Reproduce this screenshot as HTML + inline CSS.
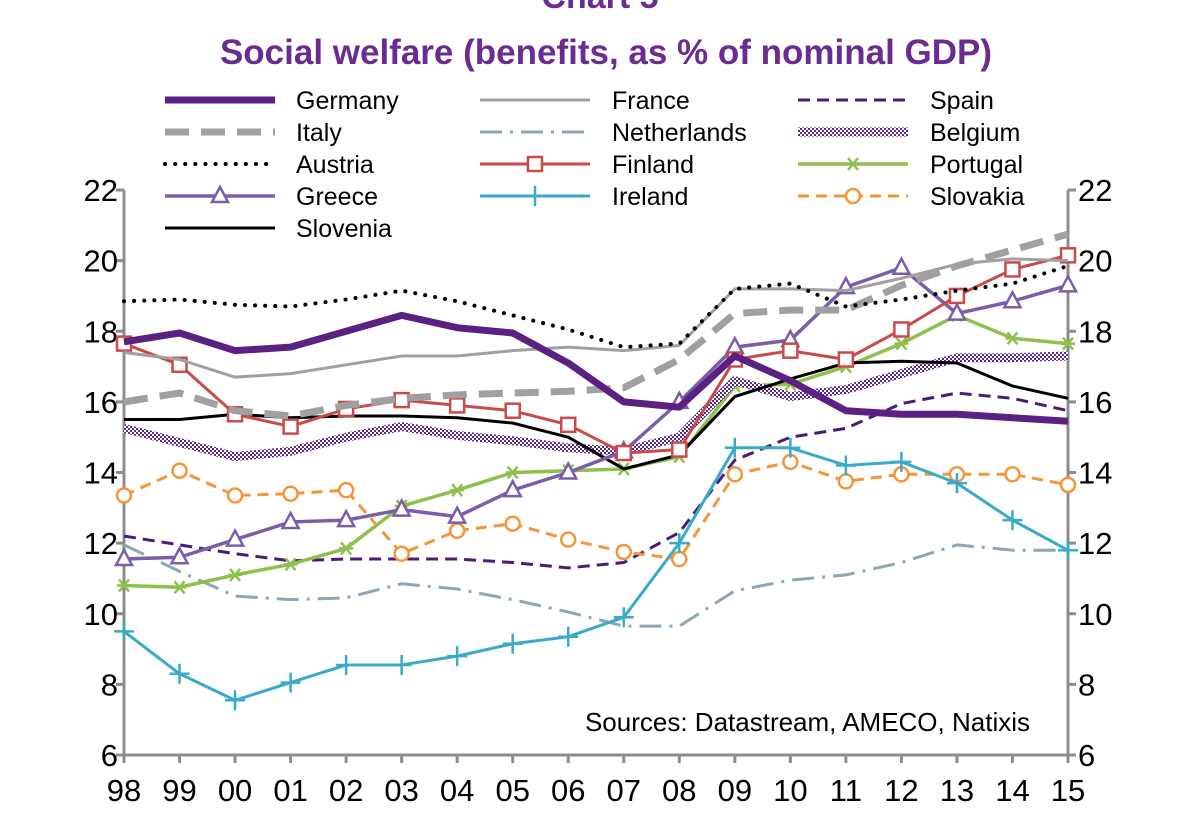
<!DOCTYPE html>
<html><head><meta charset="utf-8"><style>
body{margin:0;background:#fff;width:1200px;height:832px;overflow:hidden;font-family:"Liberation Sans",Arial,sans-serif}
svg text{font-family:"Liberation Sans",Arial,sans-serif}
</style></head><body>
<svg id="c" width="1200" height="832" xmlns="http://www.w3.org/2000/svg">
<defs>
<pattern id="chk" width="4" height="4" patternUnits="userSpaceOnUse"><rect width="4" height="4" fill="#fff"/><rect width="2" height="2" fill="#5b2a86"/><rect x="2" y="2" width="2" height="2" fill="#5b2a86"/></pattern>
</defs>
<text x="600" y="8" text-anchor="middle" font-size="34" font-weight="bold" fill="#6a2c91">Chart 5</text>
<text x="606" y="64" text-anchor="middle" font-size="35" font-weight="bold" fill="#6a2c91">Social welfare (benefits, as % of nominal GDP)</text>
<g id="axes"></g><g id="series"></g><g id="legend"></g>
<text x="1030" y="731" text-anchor="end" font-size="26" fill="#000">Sources: Datastream, AMECO, Natixis</text>
</svg>
<script>
const years=["98","99","00","01","02","03","04","05","06","07","08","09","10","11","12","13","14","15"];
const yTicks=[6,8,10,12,14,16,18,20,22];
const germany=[17.7,17.95,17.45,17.55,18.0,18.45,18.1,17.95,17.1,16.0,15.85,17.3,16.6,15.75,15.65,15.65,15.55,15.45];
const france=[17.4,17.2,16.7,16.8,17.05,17.3,17.3,17.45,17.55,17.45,17.6,19.2,19.2,19.15,19.5,19.9,20.05,20.0];
const italy=[16.0,16.25,15.75,15.6,15.9,16.1,16.2,16.25,16.3,16.4,17.2,18.5,18.6,18.6,19.3,19.85,20.3,20.75];
const austria=[18.85,18.9,18.75,18.7,18.9,19.15,18.85,18.45,18.05,17.55,17.65,19.2,19.35,18.7,18.9,19.15,19.35,19.85];
const finland=[17.65,17.05,15.65,15.3,15.8,16.05,15.9,15.75,15.35,14.55,14.65,17.2,17.45,17.2,18.05,19.0,19.75,20.15];
const greece=[11.55,11.6,12.1,12.6,12.65,12.95,12.75,13.5,14.0,14.6,16.0,17.55,17.75,19.25,19.8,18.5,18.85,19.3];
const ireland=[9.5,8.3,7.55,8.05,8.55,8.55,8.8,9.15,9.35,9.9,12.0,14.7,14.7,14.2,14.3,13.7,12.65,11.8];
const slovenia=[15.5,15.5,15.65,15.55,15.6,15.6,15.55,15.4,15.0,14.1,14.5,16.15,16.65,17.1,17.15,17.1,16.45,16.1];
const spain=[12.2,11.95,11.7,11.5,11.55,11.55,11.55,11.45,11.3,11.45,12.3,14.35,15.0,15.25,15.95,16.25,16.1,15.75];
const netherlands=[11.95,11.2,10.5,10.4,10.45,10.85,10.7,10.4,10.05,9.65,9.65,10.65,10.95,11.1,11.45,11.95,11.8,11.8];
const belgium=[15.25,14.85,14.45,14.6,15.0,15.3,15.05,14.9,14.7,14.6,15.0,16.6,16.15,16.35,16.8,17.25,17.25,17.3];
const portugal=[10.8,10.75,11.1,11.4,11.85,13.05,13.5,14.0,14.05,14.1,14.45,16.45,16.5,17.0,17.65,18.45,17.8,17.65];
const slovakia=[13.35,14.05,13.35,13.4,13.5,11.7,12.35,12.55,12.1,11.75,11.55,13.95,14.3,13.75,13.95,13.95,13.95,13.65];

const NS="http://www.w3.org/2000/svg";
const X0=124,X1=1068,Y0=755,Y1=190,YMIN=6,YMAX=22;
const xs=i=>X0+(X1-X0)*i/(years.length-1);
const ys=v=>Y0-(v-YMIN)*(Y0-Y1)/(YMAX-YMIN);
function mk(tag,attrs,parent){const e=document.createElementNS(NS,tag);for(const k in attrs)e.setAttribute(k,attrs[k]);parent.appendChild(e);return e;}
const axes=document.getElementById('axes'),ser=document.getElementById('series'),leg=document.getElementById('legend');
let a=mk('line',{x1:X0,y1:Y1,x2:X0,y2:Y0,stroke:'#8c8c8c','stroke-width':3},axes);


a=mk('line',{x1:X1,y1:Y1,x2:X1,y2:Y0,stroke:'#8c8c8c','stroke-width':3},axes);


a=mk('line',{x1:X0,y1:Y0,x2:X1,y2:Y0,stroke:'#8c8c8c','stroke-width':3},axes);


yTicks.forEach(v=>{
  const y=ys(v);
  mk('line',{x1:X0-8,y1:y,x2:X0,y2:y,stroke:'#8c8c8c','stroke-width':3},axes);
  mk('line',{x1:X1,y1:y,x2:X1+8,y2:y,stroke:'#8c8c8c','stroke-width':3},axes);
  let t=mk('text',{x:X0-6,y:y+11,'text-anchor':'end','font-size':31},axes);t.textContent=v;
  
  
  t=mk('text',{x:X1+10,y:y+11,'text-anchor':'start','font-size':31},axes);t.textContent=v;
  
  
});
years.forEach((yr,i)=>{
  const x=xs(i);
  mk('line',{x1:x,y1:Y0,x2:x,y2:Y0+8,stroke:'#8c8c8c','stroke-width':3},axes);
  const t=mk('text',{x:x,y:Y0+46,'text-anchor':'middle','font-size':31},axes);t.textContent=yr;
  
  
});
function marker(g,type,x,y,color){
  if(type==='square')mk('rect',{x:x-7,y:y-7,width:14,height:14,fill:'#fff',stroke:color,'stroke-width':2.5},g);
  else if(type==='circle')mk('circle',{cx:x,cy:y,r:7,fill:'#fff',stroke:color,'stroke-width':2.5},g);
  else if(type==='tri')mk('polygon',{points:`${x},${y-9} ${x+8},${y+6} ${x-8},${y+6}`,fill:'#fff',stroke:color,'stroke-width':2.5},g);
  else if(type==='plus'){mk('path',{d:`M${x-10},${y}H${x+10}M${x},${y-10}V${y+10}`,stroke:color,'stroke-width':2.5},g);}
  else if(type==='star'){mk('path',{d:`M${x-7},${y}H${x+7}M${x-5},${y-6}L${x+5},${y+6}M${x+5},${y-6}L${x-5},${y+6}`,stroke:color,'stroke-width':2.5},g);}
}
const defs=[
 ['netherlands',netherlands,'Netherlands','#8fa6b3',3,'22 8 3 8',null,1,1],
 ['spain',spain,'Spain','#4b1c77',3,'12 7',null,2,0],
 ['slovakia',slovakia,'Slovakia','#f5953a',3,'11 7','circle',2,3],
 ['ireland',ireland,'Ireland','#3aaac8',3,null,'plus',1,3],
 ['portugal',portugal,'Portugal','#8fbf4d',3.5,null,'star',2,2],
 ['belgium',belgium,'Belgium','url(#chk)',9,null,null,2,1],
 ['slovenia',slovenia,'Slovenia','#000',3,null,null,0,4],
 ['greece',greece,'Greece','#7b5ea8',3.5,null,'tri',0,3],
 ['finland',finland,'Finland','#c94a4a',3,null,'square',1,2],
 ['italy',italy,'Italy','#a0a0a0',7,'24 12',null,0,1],
 ['france',france,'France','#a0a0a0',3,null,null,1,0],
 ['austria',austria,'Austria','#000',4,'0.1 10',null,0,2],
 ['germany',germany,'Germany','#5b2182',7,null,null,0,0]
];
const legX=[165,480,798],legT=[296,612,930],legY=[100,132,164,196,228];
defs.forEach(([id,data,label,color,w,dash,mkType,col,row])=>{
  const g=mk('g',{},ser);
  
  
  const pts=data.map((v,i)=>xs(i)+','+ys(v)).join(' ');
  const p=mk('polyline',{points:pts,fill:'none',stroke:color,'stroke-width':w,'stroke-linejoin':'round','stroke-linecap':dash==='0.1 10'?'round':'butt'},g);
  if(dash)p.setAttribute('stroke-dasharray',dash);
  if(mkType)data.forEach((v,i)=>marker(g,mkType,xs(i),ys(v),color));
  const lg=mk('g',{},leg);
  
  
  const ly=legY[row];
  const l=mk('line',{x1:legX[col],y1:ly,x2:legX[col]+110,y2:ly,stroke:color,'stroke-width':w,'stroke-linecap':dash==='0.1 10'?'round':'butt'},lg);
  if(dash)l.setAttribute('stroke-dasharray',dash);
  if(mkType)marker(lg,mkType,legX[col]+55,ly,color);
  const t=mk('text',{x:legT[col],y:ly+9,'font-size':25},lg);t.textContent=label;
});
</script>
</body></html>
